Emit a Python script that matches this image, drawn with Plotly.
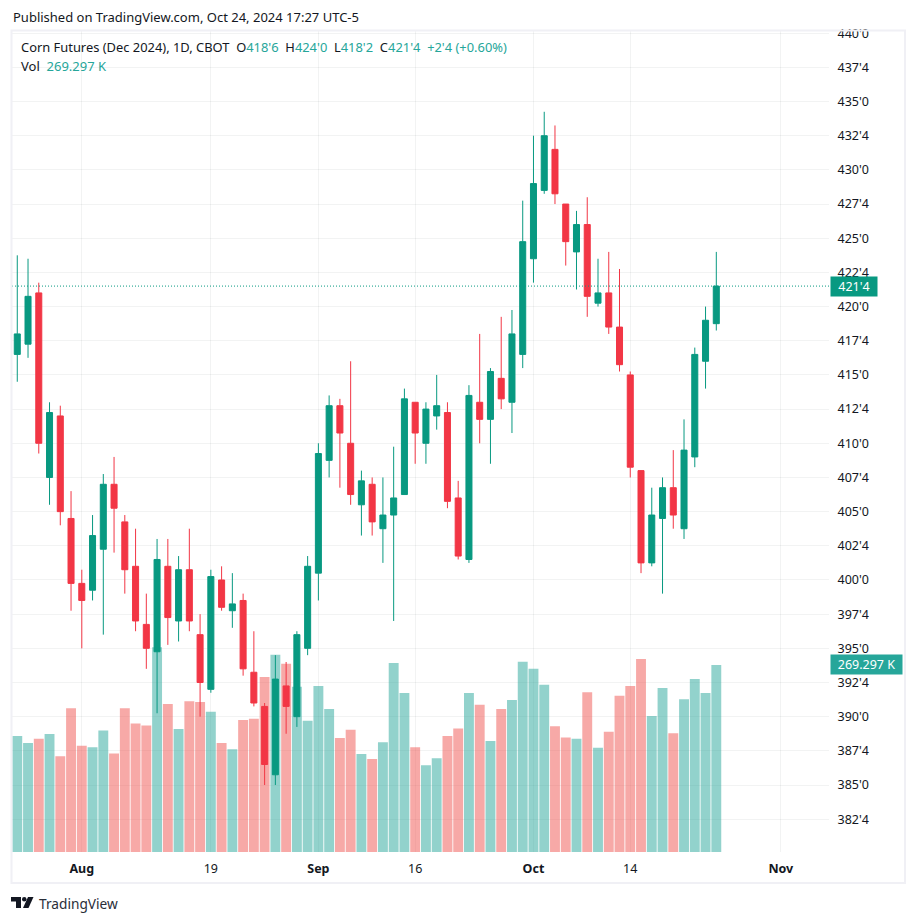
import plotly.graph_objects as go

days = [
    "Jul 24", "Jul 25", "Jul 26", "Jul 29", "Jul 30", "Jul 31", "Aug 1", "Aug 2", "Aug 5", "Aug 6", "Aug 7",
    "Aug 8", "Aug 9", "Aug 12", "Aug 13", "Aug 14", "Aug 15", "Aug 16", "Aug 19", "Aug 20", "Aug 21", "Aug 22",
    "Aug 23", "Aug 26", "Aug 27", "Aug 28", "Aug 29", "Aug 30", "Sep 3", "Sep 4", "Sep 5", "Sep 6", "Sep 9",
    "Sep 10", "Sep 11", "Sep 12", "Sep 13", "Sep 16", "Sep 17", "Sep 18", "Sep 19", "Sep 20", "Sep 23", "Sep 24",
    "Sep 25", "Sep 26", "Sep 27", "Sep 30", "Oct 1", "Oct 2", "Oct 3", "Oct 4", "Oct 7", "Oct 8", "Oct 9",
    "Oct 10", "Oct 11", "Oct 14", "Oct 15", "Oct 16", "Oct 17", "Oct 18", "Oct 21", "Oct 22", "Oct 23", "Oct 24",
]
future_days = ["Oct 25", "Oct 28", "Oct 29", "Oct 30", "Oct 31", "Nov 1"]
opens = [
    416.5, 417.25, 421.0, 407.5, 412.0, 404.5, 399.75, 399.25, 402.25, 407.0, 404.25,
    401.0, 396.75, 394.75, 401.0, 397.0, 400.75, 396.0, 392.0, 400.0, 397.75, 398.5,
    393.25, 390.75, 385.75, 392.25, 390.0, 395.0, 400.5, 408.75, 412.75, 410.0, 405.5,
    407.0, 403.75, 404.75, 406.25, 413.0, 410.0, 412.0, 412.25, 406.0, 401.5, 413.0,
    411.75, 414.75, 413.0, 416.5, 423.5, 428.5, 431.5, 427.5, 424.0, 426.0, 420.25,
    421.0, 418.5, 415.0, 408.0, 401.25, 404.5, 406.75, 403.75, 409.0, 416.0, 418.75,
]
highs = [
    423.75, 423.5, 421.75, 413.0, 412.75, 406.5, 400.75, 404.75, 407.75, 409.0, 404.75,
    403.75, 399.0, 403.0, 403.0, 401.75, 403.75, 397.5, 400.75, 401.0, 400.5, 399.0,
    396.25, 391.0, 394.5, 394.0, 396.25, 401.75, 410.0, 413.5, 413.25, 416.0, 408.0,
    407.5, 407.5, 409.75, 414.0, 413.0, 413.0, 415.0, 413.0, 407.25, 414.25, 418.0,
    415.5, 419.25, 419.75, 427.75, 432.5, 434.25, 433.25, 427.5, 427.0, 428.0, 423.5,
    424.0, 422.75, 415.25, 408.0, 406.75, 407.5, 409.5, 411.75, 417.0, 420.0, 424.0,
]
lows = [
    414.5, 416.25, 409.25, 405.5, 404.0, 397.75, 395.0, 398.5, 396.0, 402.0, 399.0,
    396.25, 393.5, 390.25, 395.25, 395.5, 396.25, 390.0, 391.75, 397.75, 396.5, 393.0,
    390.75, 385.0, 385.0, 388.75, 389.25, 394.5, 398.5, 407.5, 406.75, 405.5, 403.25,
    403.25, 401.25, 397.0, 406.25, 408.5, 408.5, 411.0, 405.25, 401.5, 401.25, 410.0,
    408.5, 412.5, 410.75, 415.5, 421.75, 428.25, 427.5, 423.0, 421.25, 419.25, 420.0,
    418.0, 415.25, 407.5, 400.5, 401.0, 399.0, 403.75, 403.0, 408.25, 414.0, 418.25,
]
closes = [
    418.0, 420.75, 410.0, 412.25, 405.0, 399.75, 398.5, 403.25, 407.0, 405.25, 400.75,
    397.0, 395.0, 401.5, 397.25, 400.75, 397.0, 392.5, 400.25, 398.0, 398.25, 393.5,
    391.0, 386.5, 392.75, 390.75, 396.0, 401.0, 409.25, 412.75, 410.75, 406.25, 407.25,
    404.25, 404.75, 406.0, 413.25, 410.75, 412.5, 412.75, 405.75, 401.75, 413.5, 411.75,
    415.25, 413.25, 418.0, 424.75, 429.0, 432.5, 428.25, 424.75, 426.0, 420.75, 421.0,
    418.5, 415.75, 408.25, 401.25, 404.75, 406.75, 404.75, 409.5, 416.5, 419.0, 421.5,
]
volumes = [
    167.0, 157.0, 163.0, 170.0, 138.0, 207.0, 153.0, 151.0, 175.0, 142.0, 207.0,
    185.0, 182.0, 295.0, 213.0, 177.0, 217.0, 216.0, 202.0, 157.0, 148.0, 190.0,
    192.0, 252.0, 284.0, 271.0, 238.0, 189.0, 239.0, 206.0, 164.0, 176.0, 141.0,
    134.0, 158.0, 272.0, 229.0, 151.0, 125.0, 135.0, 167.0, 178.0, 229.0, 212.0,
    160.0, 206.0, 219.0, 274.0, 264.0, 241.0, 181.0, 165.0, 163.0, 230.0, 150.0,
    173.0, 225.0, 239.0, 278.0, 196.0, 236.0, 171.0, 220.0, 249.0, 229.0, 269.297,
]
price_ticks = [
    382.5, 385, 387.5, 390, 392.5, 395, 397.5, 400, 402.5, 405, 407.5, 410,
    412.5, 415, 417.5, 420, 422.5, 425, 427.5, 430, 432.5, 435, 437.5, 440,
]
price_labels = [
    "382'4", "385'0", "387'4", "390'0", "392'4", "395'0", "397'4", "400'0", "402'4", "405'0", "407'4", "410'0",
    "412'4", "415'0", "417'4", "420'0", "422'4", "425'0", "427'4", "430'0", "432'4", "435'0", "437'4", "440'0",
]
date_ticks = ["Aug 1", "Aug 19", "Sep 3", "Sep 16", "Oct 1", "Oct 14", "Nov 1"]
date_labels = ["<b>Aug</b>", "19", "<b>Sep</b>", "16", "<b>Oct</b>", "14", "<b>Nov</b>"]

WIDTH = 900
HEIGHT = 907
GREEN = "#089981"
RED = "#f23645"
TEAL = "#26a69a"
FONT = "Noto Sans"
GRID = "rgba(42,46,57,0.06)"


def paper_x(px):
    return (px - 8) / WIDTH


def paper_y(py):
    return 1 - (py - 8) / HEIGHT


def label(fig, px, py, text, size=13, color="#131722", **kwargs):
    fig.add_annotation(
        x=paper_x(px), y=paper_y(py), xref="paper", yref="paper", borderpad=0,
        text=text, showarrow=False, xanchor="left", yanchor="middle",
        font={"family": FONT, "size": size, "color": color}, **kwargs
    )


def polygon(fig, points):
    path = "M " + " L ".join(f"{paper_x(a)} {paper_y(b)}" for a, b in points) + " Z"
    fig.add_shape(type="path", xref="paper", yref="paper", path=path, fillcolor="#131722", line={"width": 0})


def main():
    """Draw the corn futures chart."""
    bar_colors = [
        "rgba(38,166,154,0.5)" if c >= o else "rgba(239,83,80,0.5)"
        for o, c in zip(opens, closes)
    ]
    fig = go.Figure()
    fig.add_trace(go.Bar(x=days, y=volumes, marker_color=bar_colors, marker_line_width=0, width=0.92, yaxis="y"))
    fig.add_trace(go.Candlestick(
        x=days, open=opens, high=highs, low=lows, close=closes, yaxis="y2", whiskerwidth=0,
        increasing={"line": {"color": GREEN, "width": 1}, "fillcolor": GREEN},
        decreasing={"line": {"color": RED, "width": 1}, "fillcolor": RED},
    ))
    fig.update_layout(
        template="plotly_white",
        width=WIDTH,
        height=HEIGHT,
        margin={"l": 0, "r": 0, "t": 0, "b": 0},
        showlegend=False,
        boxgap=0.3,
        boxgroupgap=0.2,
        paper_bgcolor="white",
        plot_bgcolor="white",
        xaxis={
            "type": "category",
            "categoryorder": "array",
            "categoryarray": days + future_days,
            "range": [-0.49, 75.48],
            "domain": [paper_x(12), paper_x(829)],
            "tickmode": "array",
            "tickvals": date_ticks,
            "ticktext": date_labels,
            "tickfont": {"family": FONT, "size": 12.5, "color": "#131722"},
            "ticks": "outside",
            "ticklen": 5,
            "tickcolor": "rgba(0,0,0,0)",
            "gridcolor": GRID,
            "rangeslider": {"visible": False},
            "showline": False,
            "zeroline": False,
            "automargin": False,
        },
        yaxis={
            "domain": [paper_y(852), paper_y(31)],
            "range": [0, 1182.24],
            "visible": False,
            "automargin": False,
        },
        yaxis2={
            "overlaying": "y",
            "side": "right",
            "range": [380.1, 440.16],
            "tickmode": "array",
            "tickvals": price_ticks,
            "ticktext": price_labels,
            "tickfont": {"family": FONT, "size": 12.5, "color": "#131722"},
            "ticks": "outside",
            "ticklen": 5,
            "tickcolor": "rgba(0,0,0,0)",
            "gridcolor": GRID,
            "showline": False,
            "zeroline": False,
            "automargin": False,
        },
    )
    # last price line
    fig.add_shape(
        type="line", xref="paper", yref="y2", x0=paper_x(12), x1=paper_x(829),
        y0=closes[-1], y1=closes[-1], line={"color": GREEN, "width": 1, "dash": "1px,2px"}
    )
    # frame around the chart
    fig.add_shape(
        type="rect", xref="paper", yref="paper", x0=paper_x(11.5), x1=paper_x(905), y0=paper_y(883), y1=paper_y(30.5),
        line={"color": "#f0f0f5", "width": 2}, layer="above"
    )
    # TradingView mark
    polygon(fig, [(11, 897), (21, 897), (21, 908), (16, 908), (16, 901.5), (11, 901.5)])
    polygon(fig, [(28, 897), (33.5, 897), (28.5, 908), (23, 908)])
    fig.add_shape(
        type="circle", xref="paper", yref="paper", x0=paper_x(22), x1=paper_x(26.5), y0=paper_y(901.5), y1=paper_y(897),
        fillcolor="#131722", line={"width": 0}
    )

    label(fig, 12, 17, "Published on TradingView.com, Oct 24, 2024 17:27 UTC-5")
    header = "Corn Futures (Dec 2024), 1D, CBOT&nbsp;&nbsp;O{g}418'6{e}&nbsp;&nbsp;H{g}424'0{e}&nbsp;&nbsp;L{g}418'2{e}&nbsp;&nbsp;C{g}421'4{e}&nbsp;&nbsp;{g}+2'4 (+0.60%){e}"
    label(fig, 20, 47, header.format(g="<span style='color:%s'>" % TEAL, e="</span>"), size=12.9)
    label(fig, 20, 66, "Vol&nbsp;&nbsp;<span style='color:%s'>269.297 K</span>" % TEAL)
    label(fig, 38, 903, "TradingView", size=13.7, color="#2a2e39")

    fig.add_annotation(
        x=paper_x(830), xref="paper", y=closes[-1], yref="y2", text="421'4", showarrow=False,
        xanchor="left", yanchor="middle", bgcolor=GREEN, width=46, height=19, borderpad=0,
        font={"family": FONT, "size": 12.5, "color": "white"}
    )
    fig.add_annotation(
        x=paper_x(830), xref="paper", y=volumes[-1], yref="y", text="269.297 K", showarrow=False,
        xanchor="left", yanchor="middle", bgcolor=TEAL, width=71, height=19, borderpad=0,
        font={"family": FONT, "size": 12.5, "color": "white"}
    )
    fig.write_html("out.html")


if __name__ == "__main__":
    main()
